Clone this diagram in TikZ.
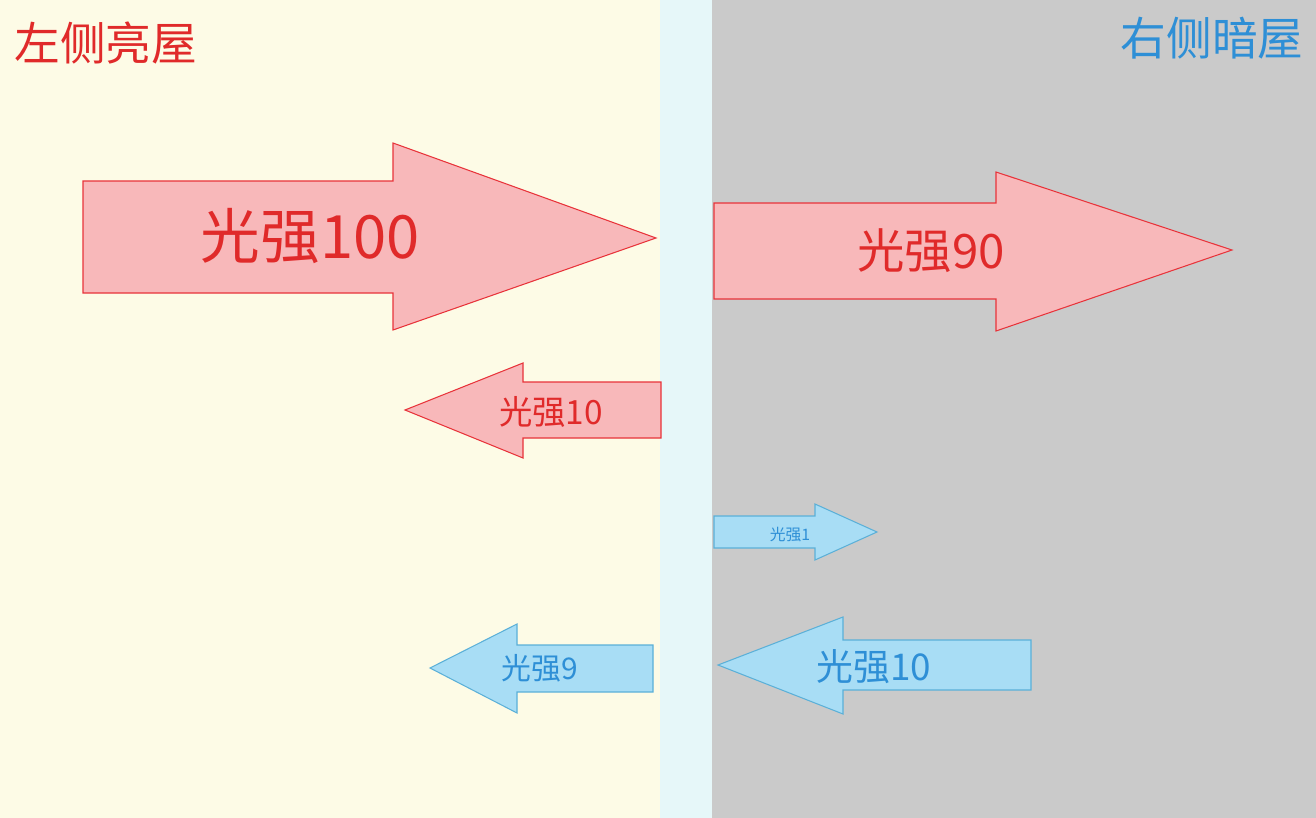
\documentclass[tikz,border=0pt]{standalone}
\usepackage{fontspec}
\newfontfamily\cjk{Noto Sans CJK SC}
\definecolor{cream}{HTML}{FDFBE6}
\definecolor{midc}{HTML}{E6F7F9}
\definecolor{grayr}{HTML}{CACACA}
\definecolor{rfill}{HTML}{F8B8BA}
\definecolor{rline}{HTML}{E8333A}
\definecolor{rtext}{HTML}{E02A2A}
\definecolor{bfill}{HTML}{A8DDF5}
\definecolor{bline}{HTML}{5BB0D8}
\definecolor{btext}{HTML}{2E8FD6}
\tikzset{
 redarrow/.style={fill=rfill,draw=rline,line width=0.6pt,line join=miter},
 bluearrow/.style={fill=bfill,draw=bline,line width=0.6pt,line join=miter},
 lbl/.style={font=\cjk,inner sep=0pt},
 fs/.style={font=\cjk\fontsize{#1}{#1}\selectfont}
}
\begin{document}
\begin{tikzpicture}[x=0.02cm,y=-0.02cm]
\useasboundingbox (0,0) rectangle (1316,818);
\fill[cream] (0,0) rectangle (660,818);
\fill[midc] (660,0) rectangle (712,818);
\fill[grayr] (712,0) rectangle (1316,818);
\node[lbl,fs=26,text=rtext,anchor=west] (t1) at (14,43) {左侧亮屋};
\node[lbl,fs=26,text=btext,anchor=east] (t2) at (1304,38) {右侧暗屋};
% arrows
\draw[redarrow] (83,181)--(393,181)--(393,143)--(656,238)--(393,330)--(393,293)--(83,293)--cycle;
\node[lbl,fs=34,text=rtext] (a1) at (310,236) {光强100};
\draw[redarrow] (714,203)--(996,203)--(996,172)--(1232,250)--(996,331)--(996,299)--(714,299)--cycle;
\node[lbl,fs=27,text=rtext] (a2) at (931,251) {光强90};
\draw[redarrow] (661,382)--(523,382)--(523,363)--(405,410)--(523,458)--(523,438)--(661,438)--cycle;
\node[lbl,fs=19,text=rtext] (a3) at (551,412) {光强10};
\draw[bluearrow] (714,516)--(815,516)--(815,504)--(877,532)--(815,560)--(815,548)--(714,548)--cycle;
\node[lbl,fs=9,text=btext] (a4) at (790,535) {光强1};
\draw[bluearrow] (653,645)--(517,645)--(517,624)--(430,668)--(517,713)--(517,692)--(653,692)--cycle;
\node[lbl,fs=17,text=btext] (a5) at (540,668) {光强9};
\draw[bluearrow] (1031,640)--(843,640)--(843,617)--(718,665)--(843,714)--(843,690)--(1031,690)--cycle;
\node[lbl,fs=21,text=btext] (a6) at (874,667) {光强10};
\end{tikzpicture}
\end{document}
